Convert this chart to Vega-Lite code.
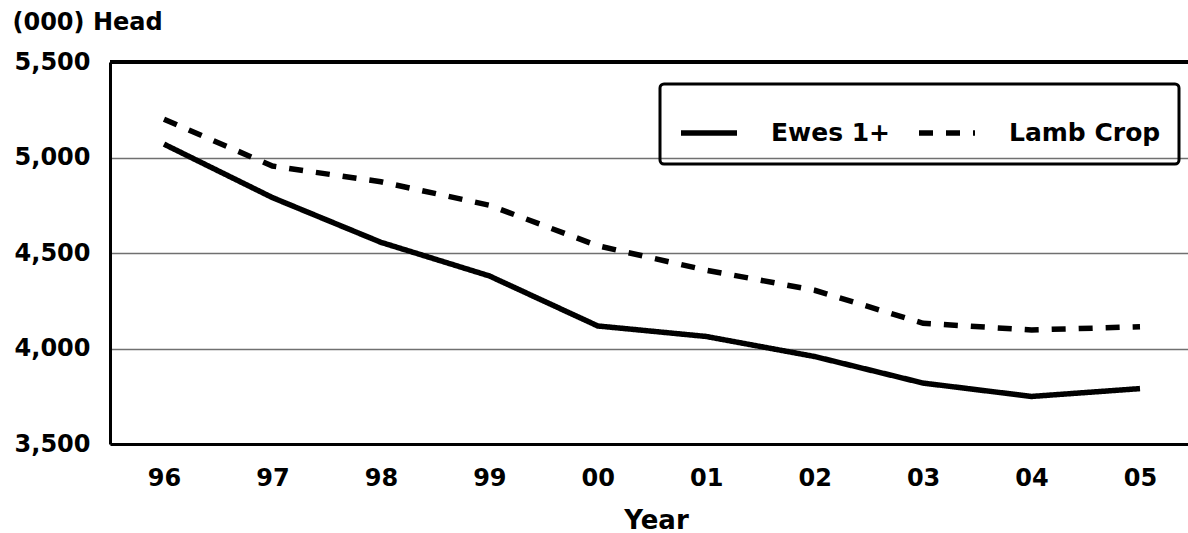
{
  "$schema": "https://vega.github.io/schema/vega-lite/v6.json",
  "width": 1078,
  "height": 382,
  "autosize": {"type": "none"},
  "padding": {"left": 110, "top": 62, "right": 0, "bottom": 89},
  "background": "white",
  "config": {
    "view": {"stroke": null},
    "font": "DejaVu Sans",
    "legend": {"strokeWidth": 3}
  },
  "data": {
    "values": [
      {"year": "96", "series": "Ewes 1+", "head": 5070},
      {"year": "97", "series": "Ewes 1+", "head": 4790},
      {"year": "98", "series": "Ewes 1+", "head": 4556},
      {"year": "99", "series": "Ewes 1+", "head": 4380},
      {"year": "00", "series": "Ewes 1+", "head": 4118},
      {"year": "01", "series": "Ewes 1+", "head": 4063},
      {"year": "02", "series": "Ewes 1+", "head": 3958},
      {"year": "03", "series": "Ewes 1+", "head": 3819},
      {"year": "04", "series": "Ewes 1+", "head": 3749},
      {"year": "05", "series": "Ewes 1+", "head": 3790},
      {"year": "96", "series": "Lamb Crop", "head": 5200},
      {"year": "97", "series": "Lamb Crop", "head": 4955},
      {"year": "98", "series": "Lamb Crop", "head": 4873},
      {"year": "99", "series": "Lamb Crop", "head": 4750},
      {"year": "00", "series": "Lamb Crop", "head": 4538},
      {"year": "01", "series": "Lamb Crop", "head": 4410},
      {"year": "02", "series": "Lamb Crop", "head": 4305},
      {"year": "03", "series": "Lamb Crop", "head": 4132},
      {"year": "04", "series": "Lamb Crop", "head": 4097},
      {"year": "05", "series": "Lamb Crop", "head": 4114}
    ]
  },
  "layer": [
    {
      "mark": {"type": "line", "strokeWidth": 5.5, "color": "black", "strokeCap": "butt"},
      "encoding": {
        "x": {
          "field": "year",
          "type": "ordinal",
          "scale": {"type": "point", "domain": ["96","97","98","99","00","01","02","03","04","05"], "padding": 0.4703, "align": 0.5294},
          "axis": {
            "title": "Year",
            "titleFont": "DejaVu Sans",
            "titleFontSize": 26,
            "titleFontWeight": "bold",
            "titleColor": "black",
            "titleBaseline": "alphabetic",
            "titleY": 84,
            "titleX": 546,
            "labelAngle": 0,
            "labelFont": "DejaVu Sans",
            "labelFontSize": 24,
            "labelFontWeight": "bold",
            "labelColor": "black",
            "labelPadding": 22,
            "ticks": false,
            "domainColor": "black",
            "domainWidth": 3,
            "grid": false
          }
        },
        "y": {
          "field": "head",
          "type": "quantitative",
          "scale": {"domain": [3500, 5500], "nice": false, "zero": false},
          "axis": {
            "title": "(000) Head",
            "titleAngle": 0,
            "titleAlign": "left",
            "titleBaseline": "alphabetic",
            "titleX": -98,
            "titleY": -33,
            "titleFont": "DejaVu Sans",
            "titleFontSize": 24,
            "titleFontWeight": "bold",
            "titleColor": "black",
            "values": [3500, 4000, 4500, 5000, 5500],
            "format": ",.0f",
            "labelFont": "DejaVu Sans",
            "labelFontSize": 24,
            "labelFontWeight": "bold",
            "labelColor": "black",
            "labelPadding": 20,
            "ticks": false,
            "domainColor": "black",
            "domainWidth": 3,
            "grid": true,
            "gridColor": "#707070",
            "gridWidth": 1.3,
            "gridOpacity": 1
          }
        },
        "strokeDash": {
          "field": "series",
          "type": "nominal",
          "scale": {"domain": ["Ewes 1+", "Lamb Crop"], "range": [[1, 0], [14, 13]]},
          "legend": {
            "title": null,
            "orient": "none",
            "legendX": 550,
            "legendY": 22,
            "direction": "horizontal",
            "strokeColor": "black",
            "cornerRadius": 4,
            "padding": 18,
            "symbolType": "stroke",
            "symbolSize": 3136,
            "symbolStrokeWidth": 5.5,
            "symbolStrokeColor": "black",
            "labelFont": "DejaVu Sans",
            "labelFontSize": 25,
            "labelFontWeight": "bold",
            "labelColor": "black",
            "labelOffset": 31,
            "columnPadding": 17,
            "labelLimit": 400
          }
        }
      }
    },
    {
      "mark": {"type": "rule", "color": "black", "strokeWidth": 3},
      "encoding": {
        "y": {"datum": 5500}
      }
    }
  ]
}
